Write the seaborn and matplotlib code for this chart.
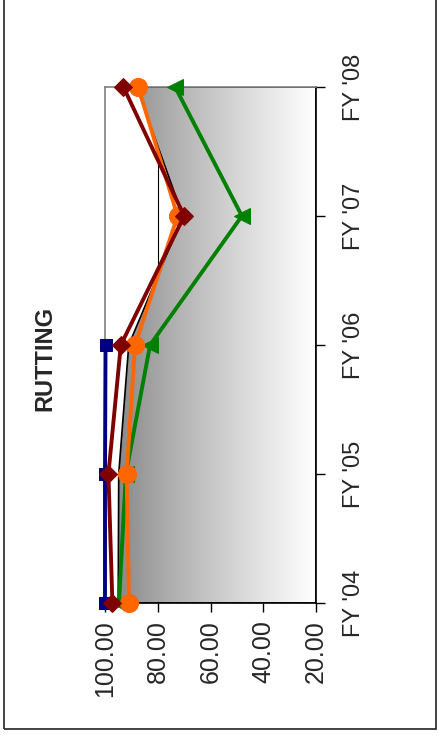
import numpy as np
import matplotlib
matplotlib.use("Agg")
import matplotlib.pyplot as plt
import seaborn as sns
from matplotlib.colors import LinearSegmentedColormap
from matplotlib.patches import Rectangle

# chart data (the chart is drawn turned on its side, like the scan)
years = ["FY '04", "FY '05", "FY '06", "FY '07", "FY '08"]
area_vals = [95.0, 94.8, 91.0, 70.5, 88.0]
navy_vals = [100.0, 100.0, 99.8]
brown_vals = [97.2, 98.7, 94.0, 70.0, 93.0]
orange_vals = [90.9, 91.8, 88.6, 72.5, 87.4]
green_vals = [94.7, 92.1, 82.9, 48.1, 73.4]
value_ticks = [100, 80, 60, 40, 20]

sns.set_style("white")
plt.rcParams["font.family"] = ["Liberation Sans", "DejaVu Sans"]

fig = plt.figure(figsize=(4.39, 7.36), dpi=100)
ax = fig.add_axes([105 / 439, 1 - 603 / 736, 211 / 439, 516 / 736])

pos = np.arange(len(years))

# gridlines behind the area
for v in value_ticks[1:-1]:
    ax.axvline(v, color="black", lw=0.8, zorder=0.5)

# gradient-filled area
poly = ax.fill_betweenx(pos, area_vals, 20, facecolor="none",
                        edgecolor="black", lw=1.2, zorder=2)
cmap = LinearSegmentedColormap.from_list("g", ["#7a7a7a", "#ffffff"])
grad = np.linspace(0, 1, 256) ** 0.8
im = ax.imshow(grad[np.newaxis, :], extent=[100, 20, -0.5, 4.5], cmap=cmap,
               aspect="auto", zorder=1, vmin=0, vmax=1)
im.set_clip_path(poly.get_paths()[0], transform=ax.transData)

series = [
    (navy_vals, "#000080", "s", 8),
    (green_vals, "#008000", "<", 11),
    (orange_vals, "#FF6600", "o", 13),
    (brown_vals, "#800000", "D", 9),
]
for i, (vals, col, mk, ms) in enumerate(series):
    sns.lineplot(x=vals, y=pos[:len(vals)], orient="y", sort=False, ax=ax,
                 color=col, lw=2.8, marker=mk, markersize=ms,
                 markeredgecolor=col, clip_on=False, zorder=3 + i)

ax.set_xlim(100, 20)
ax.set_ylim(0, 4)
ax.set_xticks(value_ticks)
ax.set_xticklabels([f"{v:.2f}" for v in value_ticks], rotation=90, fontsize=18)
ax.set_yticks(pos)
ax.set_yticklabels(years, rotation=90, fontsize=17, va="center")
ax.yaxis.tick_right()
ax.tick_params(axis="x", direction="out", length=6.5, width=1, pad=6,
               bottom=True, color="black")
ax.tick_params(axis="y", direction="out", length=6.5, width=1, pad=13,
               right=True, left=False, color="black")
ax.set_xlabel("")
ax.set_ylabel("")

for side in ["left", "top"]:
    ax.spines[side].set_color("#808080")
    ax.spines[side].set_linewidth(1.2)
for side in ["right", "bottom"]:
    ax.spines[side].set_color("black")
    ax.spines[side].set_linewidth(1.2)
    ax.spines[side].set_zorder(2.5)

fig.text(45 / 439, 1 - 358 / 736, "RUTTING", rotation=90, fontsize=17,
         fontweight="bold", ha="center", va="center")

fig.patches.append(Rectangle((4.5 / 439, 1 - 729 / 736), 432 / 439, 1.2,
                             transform=fig.transFigure, fill=False,
                             edgecolor="#222222", lw=1.2))

fig.savefig("out.png", dpi=100)
